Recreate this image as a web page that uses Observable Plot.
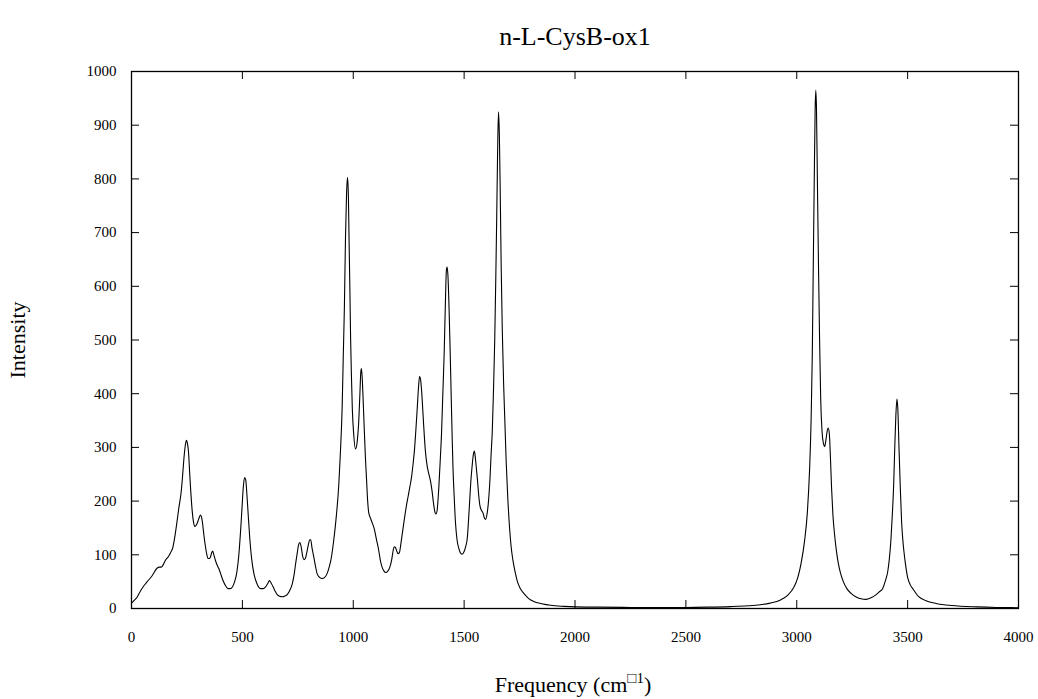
<!DOCTYPE html>
<html><head><meta charset="utf-8">
<script src="https://cdn.jsdelivr.net/npm/d3@7"></script>
<script src="https://cdn.jsdelivr.net/npm/@observablehq/plot@0.6"></script>
<style>
html,body{margin:0;padding:0;background:#fff;}
</style></head><body><div id="chart"></div>
<script>
const titleText = "n-L-CysB-ox1";
const xLabelMain = "Frequency (cm";
const xLabelSup = "\u25A11";
const xLabelEnd = ")";
const yLabelText = "Intensity";
const xTicks = [0, 500, 1000, 1500, 2000, 2500, 3000, 3500, 4000];
const yTicks = [0, 100, 200, 300, 400, 500, 600, 700, 800, 900, 1000];

const freq = [0,12,25,41,55,71,93,115,126,134,145,153,165,176,186,194,204,213,224,231,237,243,248,252,257,262,267,273,280,286,292,300,306,311,316,320,327,334,340,346,351,356,361,366,372,379,386,394,402,410,422,435,445,455,465,474,483,492,498,504,510,515,520,527,534,542,552,565,582,594,604,614,622,630,639,648,657,668,680,690,702,713,725,733,740,748,753,759,765,772,778,784,790,797,804,808,814,822,830,837,848,860,871,882,892,900,912,922,935,942,950,955,960,965,970,974,978,981,985,988,992,996,1002,1010,1016,1021,1025,1030,1034,1037,1041,1045,1050,1055,1060,1065,1070,1078,1087,1095,1105,1115,1123,1130,1138,1146,1155,1165,1173,1180,1185,1190,1196,1202,1208,1214,1221,1230,1240,1248,1255,1263,1270,1276,1282,1288,1294,1299,1304,1310,1317,1325,1333,1340,1348,1355,1362,1368,1373,1378,1386,1393,1398,1404,1410,1415,1420,1423,1427,1432,1437,1442,1446,1450,1455,1461,1468,1476,1484,1491,1500,1508,1514,1520,1525,1530,1536,1541,1546,1550,1555,1560,1566,1571,1578,1585,1592,1597,1603,1611,1617,1622,1627,1632,1638,1643,1647,1651,1655,1659,1663,1667,1672,1678,1684,1690,1697,1705,1712,1720,1730,1739,1752,1769,1790,1814,1850,1890,1950,2000,2100,2250,2400,2500,2600,2700,2780,2836,2880,2927,2960,2985,3005,3020,3035,3048,3058,3065,3070,3074,3079,3083,3086,3089,3093,3098,3103,3108,3114,3120,3126,3131,3137,3142,3147,3152,3157,3163,3170,3178,3187,3198,3210,3226,3245,3270,3290,3312,3335,3355,3372,3387,3400,3410,3417,3425,3431,3437,3442,3447,3452,3456,3461,3467,3473,3480,3488,3500,3512,3523,3538,3550,3580,3633,3700,3814,3900,4000];
const intensity = [10,15,21,33,42,50,61,75,77,77,83,90,96,104,113,130,158,186,217,250,282,305,313,308,292,255,220,185,160,153,155,163,170,174,170,160,135,114,100,93,93,96,103,107,99,89,81,74,65,55,44,37,37,40,50,65,95,145,185,225,244,240,215,170,127,92,65,47,37,37,40,46,52,47,40,32,26,23,22,23,26,33,46,62,83,105,118,123,115,97,91,93,103,118,128,128,113,96,78,65,58,56,58,65,78,92,127,165,232,290,375,470,560,690,775,803,770,690,590,505,430,370,325,297,305,325,350,400,440,447,425,385,330,280,240,200,178,168,158,148,128,108,88,77,70,67,69,77,90,108,115,114,107,102,104,118,139,165,192,210,226,245,270,295,330,369,410,432,425,395,345,295,266,252,238,220,196,180,176,182,226,282,325,400,475,560,630,636,620,560,480,390,320,260,210,160,128,112,103,101,106,117,130,165,200,235,265,285,293,283,262,240,210,192,183,178,168,166,175,205,245,290,330,400,500,620,730,850,925,880,770,640,520,420,345,270,205,150,115,90,68,52,38,28,19,13,9,6,4,3,2.5,2,2,2,2.5,3.5,5,7,10,16,25,38,58,85,125,180,260,356,470,620,800,930,965,930,800,640,500,390,330,308,302,312,330,336,325,280,225,175,140,110,85,65,50,37,28,21,18,17,20,25,31,37,52,68,90,130,175,230,300,360,390,370,300,225,160,120,90,58,44,37,28,22,15,9,5.5,3,2,1.5];

const spectrum = freq.map((f, i) => ({f, v: intensity[i]}));

const W = 1038, H = 699, mL = 131, mR = 20, mT = 71, mB = 91;
const fw = W - mL - mR, fh = H - mT - mB;
const tick = 8;
const serif = "'Liberation Serif', 'Times New Roman', Times, serif";

const chart = Plot.plot({
  width: W, height: H,
  marginLeft: mL, marginRight: mR, marginTop: mT, marginBottom: mB,
  style: {fontFamily: serif, fontSize: "15px", color: "#000", background: "#fff"},
  x: {domain: [0, 4000], label: null},
  y: {domain: [0, 1000], label: null},
  marks: [
    Plot.axisX({ticks: xTicks, tickSize: 0, tickPadding: 23, fontSize: 15, label: null, tickFormat: d => String(d)}),
    Plot.axisY({ticks: yTicks, tickSize: 0, tickPadding: 15, fontSize: 15, label: null, tickFormat: d => String(d)}),
    Plot.ruleX(xTicks, {x: d => d, insetTop: fh - tick, stroke: "#000", strokeWidth: 1}),
    Plot.ruleX(xTicks, {x: d => d, insetBottom: fh - tick, stroke: "#000", strokeWidth: 1}),
    Plot.ruleY(yTicks, {y: d => d, insetRight: fw - tick, stroke: "#000", strokeWidth: 1}),
    Plot.ruleY(yTicks, {y: d => d, insetLeft: fw - tick, stroke: "#000", strokeWidth: 1}),
    Plot.line(spectrum, {x: "f", y: "v", stroke: "#000", strokeWidth: 1.1, curve: "monotone-x"}),
    Plot.frame({stroke: "#000", strokeWidth: 1.3})
  ]
});

const svg = d3.select(chart);
svg.append("text")
  .attr("x", 575).attr("y", 45)
  .attr("text-anchor", "middle")
  .attr("font-family", serif).attr("font-size", 26).attr("fill", "#000")
  .text(titleText);
svg.append("text")
  .attr("transform", "translate(25,340) rotate(-90)")
  .attr("text-anchor", "middle")
  .attr("font-family", serif).attr("font-size", 22).attr("fill", "#000")
  .text(yLabelText);
const xl = svg.append("text")
  .attr("x", 573).attr("y", 692)
  .attr("text-anchor", "middle")
  .attr("font-family", serif).attr("font-size", 22).attr("fill", "#000");
xl.append("tspan").text(xLabelMain);
xl.append("tspan").attr("dy", -9).attr("font-size", 15).text(xLabelSup);
xl.append("tspan").attr("dy", 9).text(xLabelEnd);

document.getElementById("chart").appendChild(chart);
</script>
</body></html>
